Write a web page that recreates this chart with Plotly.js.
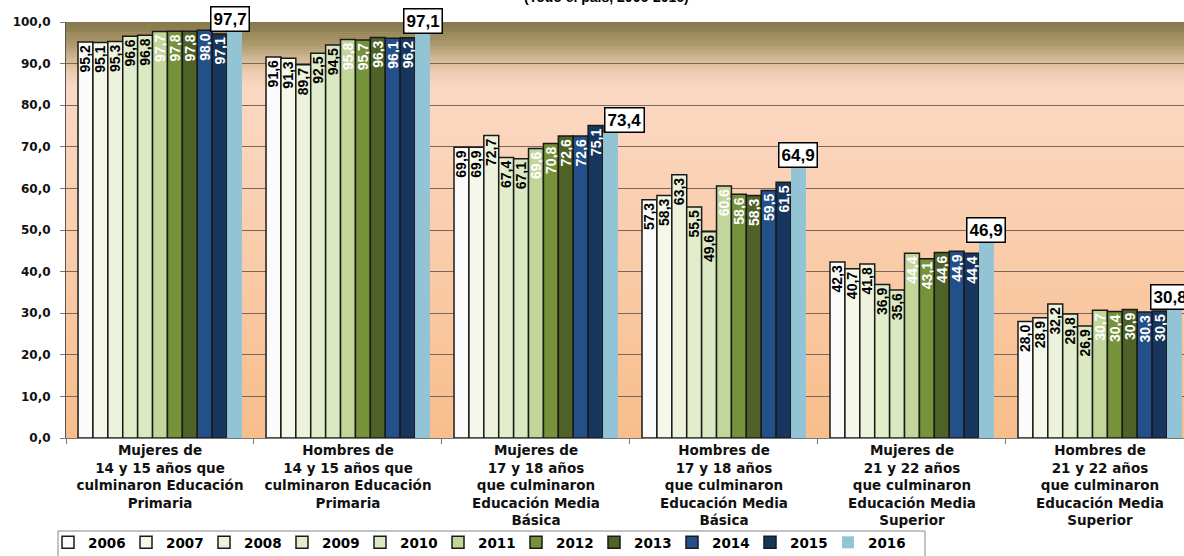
<!DOCTYPE html>
<html>
<head>
<meta charset="utf-8">
<script src="https://cdn.plot.ly/plotly-3.0.1.min.js"></script>
<style>html,body{margin:0;padding:0;background:#fff;}#chart{width:1184px;height:556px;}</style>
</head>
<body>
<div id="chart"></div>
<script>
const categories = [
  "Mujeres de<br>14 y 15 años que<br>culminaron Educación<br>Primaria",
  "Hombres de<br>14 y 15 años que<br>culminaron Educación<br>Primaria",
  "Mujeres de<br>17 y 18 años<br>que culminaron<br>Educación Media<br>Básica",
  "Hombres de<br>17 y 18 años<br>que culminaron<br>Educación Media<br>Básica",
  "Mujeres de<br>21 y 22 años<br>que culminaron<br>Educación Media<br>Superior",
  "Hombres de<br>21 y 22 años<br>que culminaron<br>Educación Media<br>Superior"
];
const years = ["2006","2007","2008","2009","2010","2011","2012","2013","2014","2015","2016"];
const v2006 = [95.2, 91.6, 69.9, 57.3, 42.3, 28.0];
const v2007 = [95.1, 91.3, 69.9, 58.3, 40.7, 28.9];
const v2008 = [95.3, 89.7, 72.7, 63.3, 41.8, 32.2];
const v2009 = [96.6, 92.5, 67.4, 55.5, 36.9, 29.8];
const v2010 = [96.8, 94.5, 67.1, 49.6, 35.6, 26.9];
const v2011 = [97.7, 95.8, 69.6, 60.6, 44.4, 30.7];
const v2012 = [97.8, 95.7, 70.8, 58.6, 43.1, 30.4];
const v2013 = [97.8, 96.3, 72.6, 58.3, 44.6, 30.9];
const v2014 = [98.0, 96.1, 72.6, 59.5, 44.9, 30.3];
const v2015 = [97.1, 96.2, 75.1, 61.5, 44.4, 30.5];
const v2016 = [97.7, 97.1, 73.4, 64.9, 46.9, 30.8];
const series = [v2006, v2007, v2008, v2009, v2010, v2011, v2012, v2013, v2014, v2015, v2016];
const yTicks = [0,10,20,30,40,50,60,70,80,90,100];

const colors = ["#fbfbfb","#f3f8e8","#edf2dd","#e2edcb","#dbe9c2","#c2d69a","#76923b","#4f6228","#245089","#17365d","#93c4d6"];
const textColors = ["#000","#000","#000","#000","#000","#fff","#fff","#fff","#fff","#fff", null];
const FONT = "Liberation Sans, Arial, sans-serif";
const WIDE = "DejaVu Sans, Liberation Sans, sans-serif";
const BARGAP = 0.128;
const labelShift = [-5, 0, 14, 0, 0, -4];

const traces = series.map((vals, i) => {
  const last = i === series.length - 1;
  return {
    type: "bar",
    name: years[i],
    x: categories,
    y: vals,
    marker: {color: colors[i], line: {color: last ? colors[i] : "#1a1a1a", width: last ? 0 : 1.5}},
    text: last ? null : vals,
    texttemplate: last ? null : "%{y:.1f}",
    textposition: last ? "none" : "inside",
    insidetextanchor: "end",
    textangle: -90,
    constraintext: "none",
    insidetextfont: {family: FONT, size: 14, color: textColors[i] || "#000", weight: "bold"},
    hoverinfo: "skip"
  };
});
// invisible spacer entry so the last legend label is not clipped
traces.push({type: "scatter", mode: "markers", x: [null], y: [null], name: " ",
  marker: {color: "rgba(0,0,0,0)", size: 1, line: {width: 0}}, showlegend: true, hoverinfo: "skip"});

// background gradient bands
const stops = [[100,[133,120,74]],[96,[156,140,94]],[92,[200,176,138]],[88,[236,204,176]],[84,[251,217,197]],[0,[248,189,139]]];
function colAt(v){
  for(let k=0;k<stops.length-1;k++){
    const a=stops[k], b=stops[k+1];
    if(v<=a[0] && v>=b[0]){
      const t=(a[0]-v)/(a[0]-b[0]);
      const c=a[1].map((x,j)=>Math.round(x+(b[1][j]-x)*t));
      return "rgb("+c.join(",")+")";
    }
  }
  return "rgb(248,189,139)";
}
const shapes = [];
const step = 0.5;
for(let v=0; v<100; v+=step){
  shapes.push({type:"rect", xref:"paper", yref:"y", x0:0, x1:1, y0:v, y1:v+step+0.05,
    fillcolor: colAt(v+step/2), line:{width:0}, layer:"below"});
}
// legend frame
const px = x => (x-66)/1118, py = y => (438-y)/416;
shapes.push({type:"rect", xref:"paper", yref:"paper", x0:px(58), x1:px(925), y0:py(531), y1:py(562),
  fillcolor:"#ffffff", line:{color:"#888", width:1}, layer:"above"});

const n = series.length;
const barW = (1 - BARGAP) / n;
const lastIdx = series.length - 1;
const annotations = v2016.map((val, g) => ({
  x: g + (lastIdx - (n-1)/2) * barW,
  y: val, xref: "x", yref: "y",
  xshift: labelShift[g],
  text: val.toFixed(1).replace(".", ","),
  showarrow: false, yanchor: "bottom", xanchor: "center",
  bgcolor: "#ffffff", bordercolor: "#000000", borderwidth: 1.5, borderpad: 2,
  font: {family: FONT, size: 17, color: "#000", weight: "bold"}
}));
annotations.push({
  xref: "paper", yref: "paper", x: px(606), y: 1 + (22-7)/416,
  xanchor: "center", yanchor: "bottom", showarrow: false,
  text: "(Todo el país, 2006-2016)",
  font: {family: FONT, size: 14, color: "#000", weight: "bold"}
});

const layout = {
  width: 1184, height: 556,
  margin: {l: 66, r: 0, t: 22, b: 118, pad: 0, autoexpand: false},
  paper_bgcolor: "#ffffff",
  plot_bgcolor: "#f9c99f",
  separators: ",.",
  barmode: "group",
  bargap: BARGAP,
  bargroupgap: 0,
  showlegend: true,
  font: {family: FONT, color: "#000"},
  xaxis: {
    type: "category",
    range: [-0.5, 5.447],
    tickson: "boundaries",
    ticks: "outside", ticklen: 5, tickcolor: "#777",
    showline: true, linecolor: "#777", linewidth: 1,
    showgrid: false,
    tickfont: {family: WIDE, size: 13.5, color: "#111", weight: "bold"},
    automargin: false,
    fixedrange: true
  },
  yaxis: {
    range: [0, 100],
    tickvals: yTicks,
    tickformat: ".1f",
    ticks: "outside", ticklen: 5, tickcolor: "#777",
    ticklabelstandoff: 7,
    showline: true, linecolor: "#555", linewidth: 1,
    showgrid: true, gridcolor: "#7a665a", gridwidth: 1,
    zeroline: false,
    tickfont: {family: WIDE, size: 12, color: "#111", weight: "bold"},
    automargin: false,
    fixedrange: true
  },
  legend: {
    orientation: "h",
    x: px(48), xanchor: "left",
    y: py(527), yanchor: "top",
    bgcolor: "rgba(0,0,0,0)", borderwidth: 0,
    font: {family: WIDE, size: 13.5, color: "#000", weight: "bold"},
    itemwidth: 30,
    entrywidth: 33,
    traceorder: "normal",
    itemclick: false, itemdoubleclick: false
  },
  shapes: shapes,
  annotations: annotations
};

Plotly.newPlot("chart", traces, layout, {displayModeBar: false, staticPlot: true});
</script>
</body>
</html>
